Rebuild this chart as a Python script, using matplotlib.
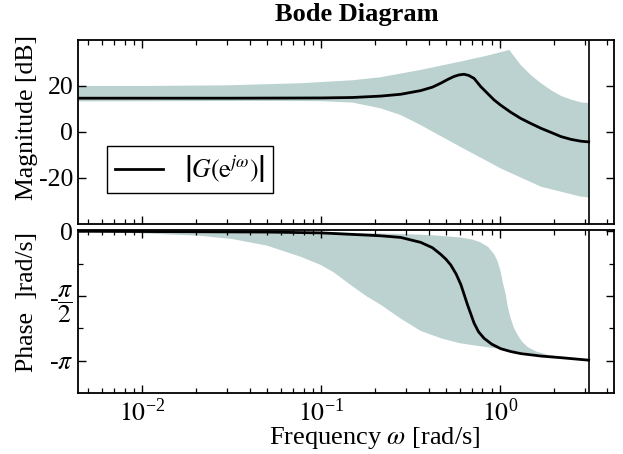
import numpy as np
import matplotlib
matplotlib.use("Agg")
import matplotlib.pyplot as plt
from matplotlib.ticker import FixedLocator, NullFormatter

plt.rcParams['font.family'] = ['Liberation Serif', 'DejaVu Serif']
plt.rcParams['mathtext.fontset'] = 'stix'

# ---------------- data ----------------
# magnitude, nominal |G(e^jw)| [dB]
mag_w = [0.0044, 0.01, 0.03, 0.1, 0.15, 0.215, 0.279, 0.361, 0.42, 0.467, 0.51, 0.553,
         0.59, 0.63, 0.67, 0.718, 0.783, 0.853, 0.93, 1.01, 1.15, 1.31, 1.50, 1.70,
         1.95, 2.20, 2.50, 2.84, 3.14]
mag_db = [14.7, 14.7, 14.7, 14.8, 15.0, 15.6, 16.4, 18.0, 19.5, 21.2, 22.8, 24.1,
          24.8, 25.1, 24.6, 23.3, 19.7, 16.8, 13.9, 11.7, 8.6, 5.9, 3.6, 1.6,
          -0.3, -2.0, -3.2, -4.0, -4.3]
# magnitude uncertainty band
magU_w = [0.0044, 0.01, 0.03, 0.077, 0.15, 0.215, 0.361, 0.60, 0.85, 1.13, 1.2, 1.31,
          1.50, 1.70, 1.95, 2.20, 2.50, 2.84, 3.14]
magU_db = [20.0, 20.0, 20.3, 21.2, 22.5, 23.8, 27.0, 30.6, 33.2, 35.7, 33.0, 29.1,
           24.6, 21.2, 18.0, 15.7, 14.1, 12.9, 12.6]
magL_w = [0.0044, 0.05, 0.1, 0.15, 0.215, 0.279, 0.361, 0.60, 1.01, 1.70, 2.84, 3.14]
magL_db = [13.3, 13.5, 13.4, 12.8, 10.3, 7.4, 3.0, -6.4, -15.8, -23.8, -28.1, -28.5]

# phase, nominal [rad]
ph_w = [0.0044, 0.05, 0.1, 0.215, 0.279, 0.361, 0.42, 0.467, 0.50, 0.532, 0.57, 0.605,
        0.63, 0.659, 0.69, 0.718, 0.76, 0.817, 0.9, 1.01, 1.15, 1.31, 1.70, 2.20, 3.14]
ph_rad = [0.0, -0.02, -0.04, -0.11, -0.15, -0.27, -0.40, -0.56, -0.68, -0.82, -1.04, -1.29,
          -1.52, -1.78, -2.02, -2.23, -2.44, -2.60, -2.74, -2.85, -2.92, -2.97, -3.03, -3.07, -3.13]
phU_w = [0.0044, 0.1, 0.3, 0.43, 0.60, 0.70, 0.78, 0.86, 0.93, 0.97, 1.01, 1.04, 1.08,
         1.11, 1.15, 1.20, 1.26, 1.33, 1.43, 1.60, 1.85, 2.5, 3.14]
phU_rad = [0.0, -0.02, -0.07, -0.10, -0.15, -0.20, -0.27, -0.38, -0.56, -0.72, -0.97, -1.25,
           -1.54, -1.85, -2.11, -2.35, -2.52, -2.68, -2.81, -2.92, -3.00, -3.08, -3.13]
phL_w = [0.0044, 0.01, 0.021, 0.032, 0.05, 0.077, 0.1, 0.118, 0.146, 0.18, 0.215, 0.279,
         0.361, 0.47, 0.60, 0.80, 1.01, 1.30, 1.70, 2.20, 3.14]
phL_rad = [-0.02, -0.05, -0.11, -0.19, -0.35, -0.62, -0.82, -1.00, -1.30, -1.58, -1.78,
           -2.12, -2.42, -2.60, -2.72, -2.80, -2.86, -2.93, -3.00, -3.06, -3.14]

nyquist = np.pi
xlim = (0.00438, 4.35)
mag_ticks = [-20, 0, 20]
mag_ticklabels = ['-20', '0', '20']
ph_ticks = [-np.pi, -np.pi / 2, 0]
ph_ticklabels = [r'-$\pi$', r'-$\dfrac{\pi}{2}$', '0']
ph_minor = [-3 * np.pi / 4, -np.pi / 4]
x_ticks = [0.01, 0.1, 1.0]
x_ticklabels = [r'$10^{\mathregular{-2}}$', r'$10^{\mathregular{-1}}$', r'$10^{\mathregular{0}}$']

band_color = '#bcd2d0'
FS = 18.5

W, H = 623, 454
fig = plt.figure(figsize=(W / 100, H / 100), dpi=100)

def px(l, t, r, b):
    return [l / W, 1 - b / H, (r - l) / W, (b - t) / H]

ax1 = fig.add_axes(px(78, 40, 614, 224))
ax2 = fig.add_axes(px(78, 230, 614, 393))

for ax in (ax1, ax2):
    ax.set_xscale('log')
    ax.set_xlim(*xlim)
    ax.axvline(nyquist, color='black', lw=1.2, zorder=4)
    ax.tick_params(which='both', direction='in', top=True, right=True, labelsize=FS)
    ax.tick_params(which='major', length=6, width=1.0)
    ax.tick_params(which='minor', length=3.5, width=0.9)
    for s in ax.spines.values():
        s.set_linewidth(1.3)
    ax.set_xticks(x_ticks)

# magnitude
ax1.fill(list(magU_w) + list(magL_w[::-1]), list(magU_db) + list(magL_db[::-1]),
         color=band_color, lw=0, zorder=1)
ax1.plot(mag_w, mag_db, color='black', lw=2.0, zorder=3,
         label=r'$\left|G(\mathrm{e}^{j\omega})\right|$')
ax1.set_ylim(-40, 40)
ax1.set_yticks(mag_ticks)
ax1.set_yticklabels(mag_ticklabels)
ax1.xaxis.set_major_formatter(NullFormatter())
ax1.xaxis.set_minor_formatter(NullFormatter())
leg = ax1.legend(loc='lower left', bbox_to_anchor=(0.054, 0.168), borderaxespad=0,
                 fancybox=False, framealpha=1, edgecolor='black', fontsize=FS,
                 handlelength=1.9, handletextpad=0.8, borderpad=0.3)
leg.get_frame().set_linewidth(1.0)

# phase
ax2.fill(list(phU_w) + list(phL_w[::-1]), list(phU_rad) + list(phL_rad[::-1]),
         color=band_color, lw=0, zorder=1)
ax2.plot(ph_w, ph_rad, color='black', lw=2.0, zorder=3)
ax2.set_ylim(-1.25 * np.pi, 0.03)
ax2.set_yticks(ph_ticks)
ax2.set_yticklabels(ph_ticklabels)
ax2.yaxis.set_minor_locator(FixedLocator(ph_minor))
ax2.set_xticklabels(x_ticklabels)
ax2.xaxis.set_minor_formatter(NullFormatter())

fig.text(357 / W, 1 - 15 / H, 'Bode Diagram', ha='center', va='center',
         fontsize=19, fontweight='bold')
fig.text(27 / W, 1 - 117 / H, 'Magnitude [dB]', rotation=90, ha='center', va='center', fontsize=FS)
fig.text(27 / W, 1 - 302 / H, 'Phase  ]rad/s]', rotation=90, ha='center', va='center', fontsize=FS)
fig.text(375 / W, 1 - 438 / H, r'Frequency $\omega$ [rad/s]', ha='center', va='center', fontsize=19)

fig.savefig('out.png', dpi=100)
